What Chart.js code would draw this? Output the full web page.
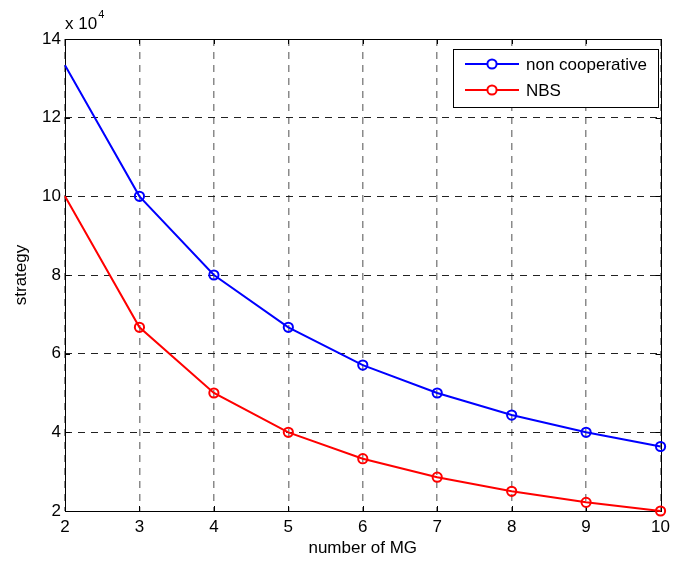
<!DOCTYPE html>
<html>
<head>
<meta charset="utf-8">
<script src="https://cdn.jsdelivr.net/npm/chart.js@4/dist/chart.umd.min.js"></script>
<style>
  html, body { margin: 0; padding: 0; background: #fff; }
  #wrap { width: 676px; height: 563px; }
</style>
</head>
<body>
<div id="wrap"><canvas id="chart" width="676" height="563"></canvas></div>
<script>
// number of MG
const mgCounts = ["2", "3", "4", "5", "6", "7", "8", "9", "10"];
// strategy values (real units, axis shows x 10^4)
const nonCooperative = [133300, 100000, 80000, 66700, 57100, 50000, 44400, 40000, 36400];
const nbs = [100000, 66700, 50000, 40000, 33300, 28600, 25000, 22200, 20000];
const seriesNames = ["non cooperative", "NBS"];
const seriesColors = ["#0000ff", "#ff0000"];

const FONT = "'Liberation Sans', Arial, sans-serif";

// hide the marker on the first point (curve enters from the left edge)
const markerRadius = ctx => ctx.dataIndex === 0 ? 0 : 4.6;

/* box, inward ticks, exponent label and legend, MATLAB style */
const matlabFrame = {
  id: "matlabFrame",
  beforeDatasetsDraw(chart) {
    const { ctx, chartArea: a, scales } = chart;
    ctx.save();
    ctx.strokeStyle = "#000";
    ctx.lineWidth = 1;
    ctx.strokeRect(Math.round(a.left) + 0.5, Math.round(a.top) + 0.5,
      Math.round(a.right - a.left), Math.round(a.bottom - a.top));
    ctx.beginPath();
    const len = 5;
    scales.x.ticks.forEach((t, i) => {
      const x = Math.round(scales.x.getPixelForTick(i)) + 0.5;
      ctx.moveTo(x, a.bottom); ctx.lineTo(x, a.bottom - len);
      ctx.moveTo(x, a.top); ctx.lineTo(x, a.top + len);
    });
    scales.y.ticks.forEach(t => {
      const y = Math.round(scales.y.getPixelForValue(t.value)) + 0.5;
      ctx.moveTo(a.left, y); ctx.lineTo(a.left + len, y);
      ctx.moveTo(a.right, y); ctx.lineTo(a.right - len, y);
    });
    ctx.stroke();

    // exponent
    ctx.fillStyle = "#000";
    ctx.textAlign = "left";
    ctx.textBaseline = "alphabetic";
    ctx.font = "17px " + FONT;
    ctx.fillText("x 10", a.left, a.top - 10);
    const w = ctx.measureText("x 10").width;
    ctx.font = "11px " + FONT;
    ctx.fillText("4", a.left + w + 1, a.top - 21);
    ctx.restore();
  },
  afterDatasetsDraw(chart) {
    const { ctx } = chart;
    const box = { x: 453, y: 49, w: 205, h: 58 };
    ctx.save();
    ctx.fillStyle = "#fff";
    ctx.fillRect(box.x, box.y, box.w, box.h);
    ctx.strokeStyle = "#000";
    ctx.lineWidth = 1;
    ctx.strokeRect(box.x + 0.5, box.y + 0.5, box.w, box.h);
    chart.data.datasets.forEach((ds, i) => {
      const y = box.y + 15 + i * 26;
      ctx.strokeStyle = ds.borderColor;
      ctx.lineWidth = 2;
      ctx.beginPath();
      ctx.moveTo(box.x + 12, y);
      ctx.lineTo(box.x + 66, y);
      ctx.stroke();
      ctx.beginPath();
      ctx.arc(box.x + 39, y, 4.6, 0, Math.PI * 2);
      ctx.fillStyle = "#fff";
      ctx.fill();
      ctx.lineWidth = 2;
      ctx.stroke();
      ctx.fillStyle = "#000";
      ctx.font = "17px " + FONT;
      ctx.textAlign = "left";
      ctx.textBaseline = "middle";
      ctx.fillText(ds.label, box.x + 73, y + 1);
    });
    ctx.restore();
  }
};

new Chart(document.getElementById("chart"), {
  type: "line",
  data: {
    labels: mgCounts,
    datasets: [
      { label: seriesNames[0], data: nonCooperative, borderColor: seriesColors[0] },
      { label: seriesNames[1], data: nbs, borderColor: seriesColors[1] }
    ].map(ds => Object.assign(ds, {
      borderWidth: 2,
      tension: 0,
      pointRadius: markerRadius,
      pointBorderWidth: 2,
      pointBackgroundColor: "rgba(255,255,255,0)",
      pointBorderColor: ds.borderColor,
      clip: 8
    }))
  },
  options: {
    responsive: false,
    animation: false,
    layout: { padding: { left: 0, top: 39, right: 11, bottom: 0 } },
    plugins: { legend: { display: false }, tooltip: { enabled: false } },
    scales: {
      x: {
        grid: { color: "#8a8a8a", lineWidth: 1.5, drawTicks: false },
        border: { display: false, dash: [7, 6] },
        ticks: { color: "#000", font: { family: FONT, size: 17 }, padding: 6, maxRotation: 0 },
        title: { display: true, text: "number of MG", color: "#000",
                 font: { family: FONT, size: 17 }, padding: { top: 0, bottom: 4 } },
        afterFit: s => { s.height = 52; }
      },
      y: {
        min: 20000, max: 140000,
        grid: { color: "#222", lineWidth: 1, drawTicks: false },
        border: { display: false, dash: [7, 6] },
        ticks: { stepSize: 20000, color: "#000", font: { family: FONT, size: 17 }, padding: 4,
                 callback: v => v / 10000 },
        title: { display: true, text: "strategy", color: "#000",
                 font: { family: FONT, size: 17 }, padding: { top: 11, bottom: 0 } },
        afterFit: s => { s.width = 65; }
      }
    }
  },
  plugins: [matlabFrame]
});
</script>
</body>
</html>
